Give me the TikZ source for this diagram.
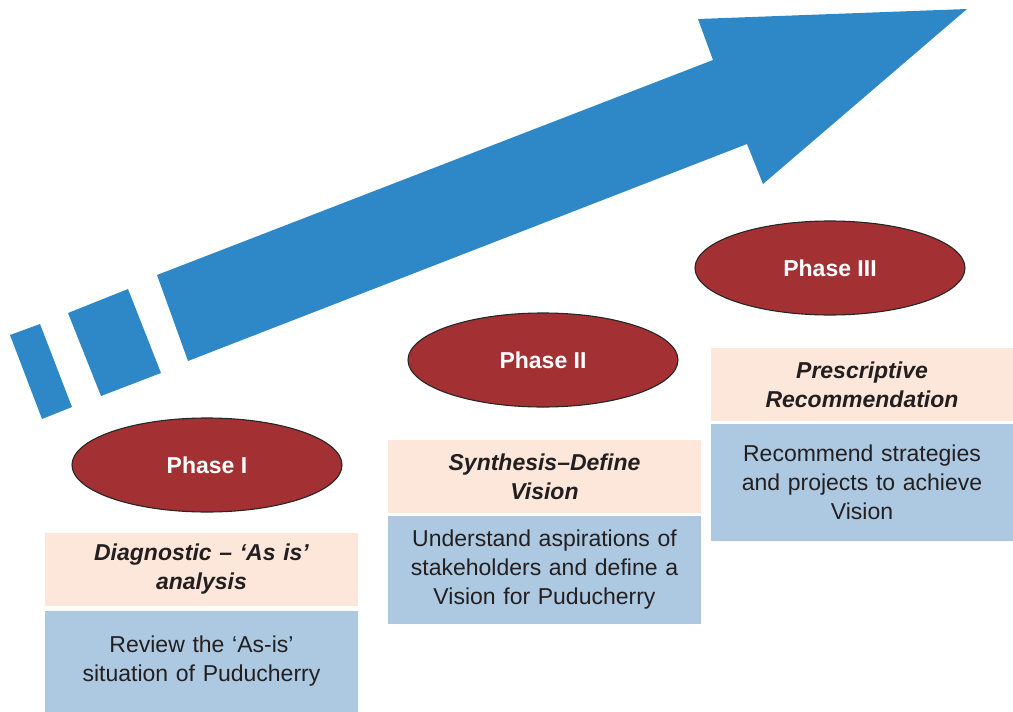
\documentclass[tikz,border=0pt]{standalone}
\usepackage{fontspec}
\setmainfont{Liberation Sans}
\usetikzlibrary{shapes.geometric}
\definecolor{arrowblue}{HTML}{2E88C8}
\definecolor{phasered}{HTML}{A33133}
\definecolor{peach}{HTML}{FDE6DA}
\definecolor{paleblue}{HTML}{ADC9E2}
\definecolor{ink}{HTML}{231F20}
\tikzset{
  phase/.style={ellipse, draw=black!85, line width=1.1pt, fill=phasered,
    minimum width=270pt, minimum height=94pt, inner sep=0pt,
    text=white, font=\fontsize{23}{29}\selectfont\bfseries},
  header/.style={rectangle, fill=peach, minimum width=313pt, minimum height=73pt,
    inner sep=0pt, text width=300pt, align=center, text=ink,
    font=\fontsize{23}{29}\selectfont\bfseries\itshape},
  bodybox/.style={rectangle, fill=paleblue, minimum width=313pt, inner sep=0pt,
    text width=300pt, align=center, text=ink,
    font=\fontsize{23}{29}\selectfont},
  arrowpart/.style={fill=arrowblue, draw=none}
}
\begin{document}
\begin{tikzpicture}[x=1pt,y=-1pt]
\useasboundingbox (0,0) rectangle (1013,712);
\clip (0,0) rectangle (1013,712);

% rising arrow with two broken segments at its tail
\fill[arrowpart] (10,335) -- (40,324) -- (72,407) -- (42,419) -- cycle;
\fill[arrowpart] (68,313) -- (128,289) -- (161,373) -- (101,396) -- cycle;
\fill[arrowpart] (157,275) -- (713,60) -- (698,19) -- (967,9) -- (763,184)
  -- (747,144) -- (188,361) -- cycle;

% phase ellipses
\node[phase] (p1) at (207,465) {Phase I};
\node[phase] (p2) at (543,360) {Phase II};
\node[phase] (p3) at (830,268) {Phase III};

% phase descriptions
\node[header] (h1) at (201.5,569.5) {Diagnostic – ‘As is’\\analysis};
\node[bodybox, minimum height=101pt] (b1) at (201.5,661.5)
  {Review the ‘As-is’\\situation of Puducherry};

\node[header] (h2) at (544.5,476.5) {Synthesis–Define\\Vision};
\node[bodybox, minimum height=108pt] (b2) at (544.5,570)
  {Understand aspirations of\\stakeholders and define a\\Vision for Puducherry};

\node[header, minimum width=302pt, text width=290pt] (h3) at (862,384.5)
  {Prescriptive\\Recommendation};
\node[bodybox, minimum width=302pt, text width=290pt, minimum height=117pt] (b3)
  at (862,482.5) {Recommend strategies\\and projects to achieve\\Vision};
\end{tikzpicture}
\end{document}
